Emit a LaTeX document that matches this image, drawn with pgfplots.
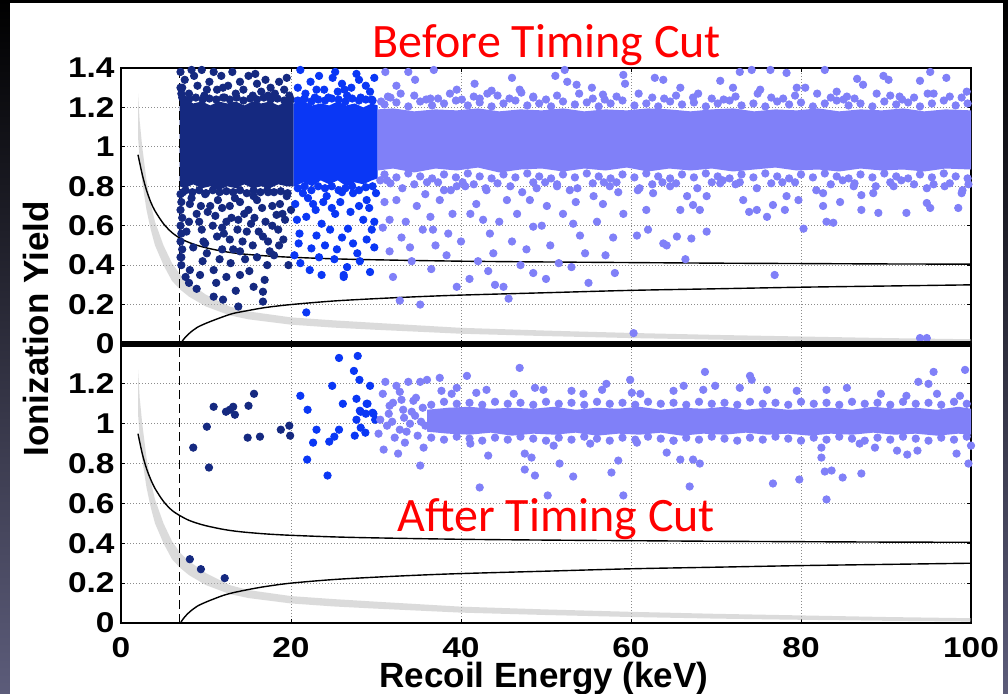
\documentclass[border=0pt]{standalone}
\usepackage{fontspec}
\setmainfont{Liberation Sans}
\newfontfamily\calibri{Carlito}
\newfontfamily\tickfont{Liberation Sans}[FakeStretch=1.17]
\usepackage{pgfplots}
\pgfplotsset{compat=1.18}
\definecolor{navy}{RGB}{21,41,128}
\definecolor{mblue}{RGB}{10,55,245}
\definecolor{light}{RGB}{128,128,248}
\definecolor{bandgray}{RGB}{185,185,185}
\definecolor{gridgray}{RGB}{140,140,140}
\definecolor{bgbot}{RGB}{92,92,122}
\pgfplotsset{
  panel/.style={
    scale only axis, width=425pt,
    xmin=0, xmax=100, ymin=0, ymax=1.4,
    clip=false,
    xtick={0,20,40,60,80,100},
    tick align=inside, major tick length=2pt,
    tick style={black, line width=0.4pt},
    grid=major,
    major grid style={gridgray, line width=0.5pt, dash pattern=on 0.5pt off 1pt},
    axis line style={black, line width=0.8pt},
    tick label style={font=\tickfont\bfseries\fontsize{14.3}{14.3}\selectfont},
    /pgf/number format/assume math mode=true,
    xticklabel style={inner sep=0pt, yshift=-7pt},
    yticklabel style={inner sep=0pt, xshift=-3pt},
  },
  pts/.style={only marks, mark=*, mark size=1.85pt, mark options={draw=none}},
  band/.style={fill=bandgray, fill opacity=0.5, draw=none},
  curve/.style={black, line width=0.7pt, smooth},
  cutline/.style={black, line width=0.8pt, dash pattern=on 4.5pt off 2.5pt},
}
\begin{document}
\begin{tikzpicture}
\useasboundingbox (0,0) rectangle (504pt,347pt);
\shade[top color=black, bottom color=bgbot] (0,0) rectangle (504pt,347pt);
\fill[white] (5pt,0) rectangle (501.5pt,345.5pt);

% ---------------- TOP PANEL: before timing cut ----------------
\begin{axis}[panel, at={(60.5pt,175pt)}, anchor=south west, height=138pt,
  ytick={0,0.2,0.4,0.6,0.8,1,1.2,1.4}, xticklabels={}]
% dense cores
\addplot[fill=navy, draw=none] coordinates {(6.9,0.80)(7.5,0.79)(8.5,0.81)(9.5,0.79)(10.5,0.80)(11.5,0.78)(12.5,0.80)(13.5,0.79)(14.5,0.81)(15.5,0.79)(16.5,0.80)(17.5,0.79)(18.5,0.81)(19.5,0.80)(20.3,0.80)(20.3,1.22)(19.5,1.23)(18.5,1.21)(17.5,1.23)(16.5,1.22)(15.5,1.23)(14.5,1.21)(13.5,1.23)(12.5,1.22)(11.5,1.23)(10.5,1.21)(9.5,1.23)(8.5,1.22)(7.5,1.24)(6.9,1.25)};
\addplot[fill=mblue, draw=none] coordinates {(20.3,0.80)(21.5,0.82)(22.5,0.80)(23.5,0.83)(24.5,0.81)(25.5,0.83)(26.5,0.80)(27.5,0.82)(28.5,0.81)(29.5,0.83)(30.2,0.84)(30.2,1.21)(29.5,1.22)(28.5,1.20)(27.5,1.22)(26.5,1.21)(25.5,1.23)(24.5,1.21)(23.5,1.22)(22.5,1.21)(21.5,1.23)(20.3,1.22)};
\addplot[fill=light, draw=none] coordinates {(30.2,0.88)(32,0.89)(34.5,0.87)(37,0.89)(39.5,0.88)(42,0.895)(44.5,0.87)(47,0.885)(49.5,0.89)(52,0.875)(54.5,0.89)(57,0.88)(59.5,0.895)(62,0.875)(64.5,0.89)(67,0.88)(69.5,0.89)(72,0.875)(74.5,0.885)(77,0.895)(79.5,0.88)(82,0.885)(84.5,0.875)(87,0.89)(89.5,0.88)(92,0.885)(94.5,0.875)(97,0.89)(100,0.885)(100,1.185)(97,1.19)(94.5,1.18)(92,1.195)(89.5,1.185)(87,1.19)(84.5,1.18)(82,1.195)(79.5,1.185)(77,1.19)(74.5,1.18)(72,1.195)(69.5,1.19)(67,1.18)(64.5,1.19)(62,1.195)(59.5,1.185)(57,1.19)(54.5,1.18)(52,1.195)(49.5,1.185)(47,1.19)(44.5,1.18)(42,1.195)(39.5,1.185)(37,1.19)(34.5,1.18)(32,1.195)(30.2,1.19)};
% navy points
\addplot[pts, navy] coordinates {
(7.0,1.38)(7.2,1.30)(7.5,1.34)(8.0,1.27)(8.3,1.39)(8.6,1.36)(9.0,1.31)(9.5,1.39)(9.8,1.26)(10.1,1.29)(10.4,1.33)(10.9,1.38)(11.3,1.29)(11.8,1.36)(12.0,1.30)(12.2,1.25)(12.6,1.31)(13.1,1.38)(13.5,1.27)(14.0,1.33)(14.4,1.29)(15.0,1.36)(15.5,1.26)(15.8,1.37)(16.0,1.32)(16.5,1.28)(17.0,1.34)(17.3,1.26)(17.6,1.30)(18.1,1.27)(18.6,1.33)(19.2,1.29)(19.8,1.26)(19.5,1.35)
(7.2,1.25)(8.0,1.24)(8.8,1.25)(9.6,1.24)(10.4,1.245)(11.2,1.24)(12.0,1.25)(12.8,1.24)(13.6,1.25)(14.4,1.235)(15.2,1.245)(16.0,1.24)(16.8,1.25)(17.6,1.24)(18.4,1.245)(19.2,1.235)(20.0,1.24)
(7.0,1.30)(7.1,1.27)(7.0,0.76)(7.1,0.72)(7.0,0.68)(7.2,0.64)(7.0,0.60)(7.1,0.56)(7.0,0.52)(7.2,0.48)(7.0,0.44)(7.1,0.40)
(7.6,0.78)(8.4,0.77)(9.2,0.78)(10.0,0.765)(10.8,0.78)(11.6,0.77)(12.4,0.775)(13.2,0.77)(14.0,0.78)(14.8,0.765)(15.6,0.78)(16.4,0.77)(17.2,0.78)(18.0,0.77)(18.8,0.775)(19.6,0.765)
(7.3,0.77)(8.1,0.71)(9.9,0.76)(11.4,0.73)(12.8,0.70)(14.0,0.72)(15.6,0.75)(17.3,0.77)(18.7,0.71)(19.5,0.75)(8.9,0.66)(11.1,0.65)(12.4,0.62)(13.8,0.63)(15.0,0.68)(16.6,0.69)(18.3,0.655)(7.7,0.57)(9.5,0.58)(11.3,0.545)(12.8,0.53)(14.8,0.57)(16.7,0.545)(19.1,0.53)(7.1,0.44)(8.5,0.49)(10.1,0.46)(11.6,0.43)(13.2,0.48)(14.6,0.43)(16.0,0.44)(17.5,0.47)(19.7,0.40)(8.1,0.375)(9.3,0.35)(10.9,0.375)(12.4,0.34)(14.0,0.35)(15.6,0.29)(16.9,0.325)(8.9,0.28)(10.9,0.24)(12.0,0.225)(13.8,0.19)(16.7,0.265)(16.7,0.215)
(9.2,0.62)(10.5,0.70)(11.9,0.59)(13.0,0.64)(14.3,0.52)(15.3,0.61)(16.2,0.57)(17.8,0.60)(18.6,0.50)(19.3,0.63)(20.0,0.68)(9.7,0.52)(12.9,0.41)(15.1,0.37)(17.2,0.40)(11.2,0.31)(13.5,0.27)(8.0,0.31)(7.6,0.34)(9.6,0.42)(18.0,0.45)
(8.3,0.74)(9.4,0.70)(10.2,0.67)(11.9,0.69)(13.4,0.74)(14.5,0.66)(16.0,0.73)(17.8,0.70)(19.0,0.66)(8.0,0.62)(10.8,0.60)(12.1,0.56)(13.7,0.58)(15.7,0.64)(17.0,0.62)(18.5,0.58)(9.9,0.51)(11.9,0.48)(14.0,0.47)(15.5,0.50)(17.3,0.52)
};
% blue points
\addplot[pts, mblue] coordinates {
(20.8,1.30)(21.1,1.39)(21.7,1.27)(22.3,1.33)(22.8,1.25)(23.3,1.36)(23.9,1.29)(24.4,1.25)(24.9,1.35)(25.5,1.28)(26.0,1.32)(26.6,1.26)(27.1,1.30)(27.7,1.37)(28.2,1.25)(28.8,1.31)(29.3,1.28)(29.8,1.35)(21.5,1.24)(23.0,1.29)(25.2,1.38)(26.3,1.29)(28.0,1.34)(29.5,1.24)
(20.8,1.235)(21.6,1.245)(22.4,1.23)(23.2,1.24)(24.0,1.235)(24.8,1.245)(25.6,1.24)(26.4,1.23)(27.2,1.245)(28.0,1.235)(28.8,1.24)(29.6,1.235)
(20.8,0.79)(21.6,0.80)(22.4,0.78)(23.2,0.80)(24.0,0.79)(24.8,0.80)(25.6,0.78)(26.4,0.79)(27.2,0.80)(28.0,0.78)(28.8,0.795)(29.6,0.80)
(20.5,0.71)(21.4,0.765)(22.6,0.71)(24.2,0.75)(25.8,0.72)(27.3,0.765)(28.9,0.73)(30.0,0.765)(20.7,0.63)(21.8,0.645)(23.6,0.61)(25.2,0.66)(26.7,0.585)(28.5,0.63)(29.5,0.58)(20.9,0.51)(22.4,0.485)(24.0,0.50)(25.4,0.48)(27.3,0.51)(28.9,0.53)(21.1,0.41)(22.2,0.375)(23.6,0.35)(26.2,0.35)(26.6,0.39)(29.3,0.365)(21.8,0.16)(21.0,0.56)(23.0,0.55)(24.6,0.58)(26.0,0.54)(27.8,0.46)(29.8,0.49)(22.9,0.68)(24.8,0.69)(27.0,0.67)(29.2,0.69)(20.4,0.45)(23.3,0.44)(25.1,0.43)(28.1,0.42)(26.2,0.34)(22.0,0.74)(23.8,0.72)(26.0,0.77)(28.0,0.70)(29.8,0.62)
};
% light points
\addplot[pts, light] coordinates {
(31.0,1.215)(32.4,1.225)(33.8,1.205)(35.2,1.23)(36.6,1.21)(38.0,1.22)(39.4,1.235)(40.8,1.21)(42.2,1.225)(43.6,1.205)(45.0,1.22)(46.4,1.235)(47.8,1.21)(49.2,1.22)(50.6,1.205)(52.0,1.23)(53.4,1.215)(54.8,1.225)(56.2,1.205)(57.6,1.22)(59.0,1.235)(60.4,1.21)(61.8,1.22)(63.2,1.205)(64.6,1.23)(66.0,1.215)(67.4,1.225)(68.8,1.205)(70.2,1.22)(71.6,1.235)(73.0,1.21)(74.4,1.22)(75.8,1.205)(77.2,1.23)(78.6,1.215)(80.0,1.225)(81.4,1.205)(82.8,1.22)(84.2,1.235)(85.6,1.21)(87.0,1.22)(88.4,1.205)(89.8,1.23)(91.2,1.215)(92.6,1.225)(94.0,1.205)(95.4,1.22)(96.8,1.235)(98.2,1.21)(99.6,1.22)
(31.0,0.86)(32.4,0.845)(33.8,0.865)(35.2,0.85)(36.6,0.84)(38.0,0.86)(39.4,0.845)(40.8,0.865)(42.2,0.85)(43.6,0.84)(45.0,0.86)(46.4,0.845)(47.8,0.865)(49.2,0.85)(50.6,0.84)(52.0,0.86)(53.4,0.845)(54.8,0.865)(56.2,0.85)(57.6,0.84)(59.0,0.86)(60.4,0.845)(61.8,0.865)(63.2,0.85)(64.6,0.84)(66.0,0.86)(67.4,0.845)(68.8,0.865)(70.2,0.85)(71.6,0.84)(73.0,0.86)(74.4,0.845)(75.8,0.865)(77.2,0.85)(78.6,0.84)(80.0,0.86)(81.4,0.845)(82.8,0.865)(84.2,0.85)(85.6,0.84)(87.0,0.86)(88.4,0.845)(89.8,0.865)(91.2,0.85)(92.6,0.84)(94.0,0.86)(95.4,0.845)(96.8,0.865)(98.2,0.85)(99.6,0.84)
(31.7,1.25)(34.5,1.26)(37.3,1.245)(41.5,1.255)(44.3,1.26)(48.5,1.25)(51.3,1.26)(55.5,1.245)(58.3,1.255)(62.5,1.25)(65.3,1.26)(69.5,1.245)(72.3,1.255)(76.5,1.25)(79.3,1.26)(83.5,1.25)(86.3,1.245)(90.5,1.26)(93.3,1.25)(97.5,1.255)
(31.7,0.815)(34.5,0.81)(37.3,0.82)(41.5,0.81)(44.3,0.815)(48.5,0.82)(51.3,0.81)(55.5,0.815)(58.3,0.82)(62.5,0.81)(65.3,0.815)(69.5,0.82)(72.3,0.81)(76.5,0.815)(79.3,0.82)(83.5,0.81)(86.3,0.815)(90.5,0.82)(93.3,0.81)(97.5,0.815)
(30.6,1.23)(32.9,1.27)(35.9,1.24)(38.7,1.27)(40.1,1.24)(43.1,1.27)(45.7,1.245)(47.1,1.275)(50.0,1.24)(53.9,1.27)(56.9,1.24)(60.9,1.27)(63.9,1.245)(67.9,1.27)(70.9,1.24)(74.9,1.27)(77.9,1.245)(81.9,1.27)(85.0,1.24)(88.9,1.27)(91.9,1.24)(94.9,1.27)(98.9,1.25)
(30.5,0.83)(33.1,0.79)(36.0,0.82)(38.8,0.78)(40.2,0.82)(42.9,0.79)(45.8,0.80)(47.2,0.77)(49.9,0.82)(53.7,0.79)(56.8,0.82)(60.8,0.78)(63.7,0.82)(67.8,0.79)(70.8,0.83)(74.8,0.79)(77.8,0.82)(81.8,0.78)(84.9,0.83)(88.8,0.80)(91.8,0.83)(94.8,0.79)(99.0,0.78)
(31.1,1.38)(33.8,1.38)(36.8,1.39)(34.6,1.34)(32.4,1.31)(31.4,1.255)(41.6,1.32)(43.6,1.285)(46.0,1.35)(46.9,1.29)(51.1,1.36)(52.2,1.39)(52.5,1.33)(53.6,1.315)(55.4,1.30)(56.7,1.265)(59.1,1.365)(59.3,1.32)(62.8,1.35)(63.8,1.34)(39.5,1.29)(36.4,1.245)(48.5,1.255)(42.2,1.245)
(65.8,1.30)(70.5,1.335)(72.8,1.38)(74.2,1.39)(76.4,1.39)(78.3,1.375)(79.5,1.30)(80.5,1.30)(82.8,1.39)(84.2,1.28)(86.6,1.345)(87.3,1.315)(89.7,1.36)(90.3,1.34)(94.0,1.335)(95.2,1.38)(97.1,1.35)(99.5,1.28)(67.3,1.25)(72.0,1.30)(75.2,1.29)(85.4,1.255)(91.6,1.255)(95.6,1.27)
(31.3,0.83)(32.4,0.73)(31.6,0.63)(33.0,0.54)(31.6,0.47)(34.0,0.49)(32.0,0.34)(32.8,0.22)(35.2,0.20)(34.8,0.70)(36.4,0.645)(37.5,0.73)(38.5,0.56)(36.7,0.58)(38.3,0.45)(39.5,0.29)(40.5,0.80)(41.1,0.66)(41.8,0.71)(42.6,0.63)(43.4,0.56)(43.8,0.46)(43.2,0.37)(45.0,0.29)(45.6,0.23)(45.4,0.73)(46.6,0.66)(48.1,0.73)(48.5,0.595)(47.7,0.48)(48.5,0.36)(50.1,0.70)(51.3,0.80)(52.0,0.66)(53.2,0.61)(54.6,0.46)(55.6,0.75)(56.7,0.71)(57.9,0.54)(59.1,0.66)(58.1,0.36)(60.3,0.055)(60.7,0.55)(61.8,0.68)(62.6,0.765)(63.8,0.51)(39.5,0.80)
(33.5,0.62)(35.5,0.58)(37.0,0.50)(39.0,0.66)(40.0,0.52)(42.0,0.42)(44.5,0.62)(46.0,0.52)(47.0,0.40)(49.5,0.60)(50.5,0.50)(51.5,0.41)(53.5,0.72)(54.0,0.55)(56.0,0.62)(57.0,0.45)(58.5,0.77)(62.0,0.58)(35.8,0.76)(38.0,0.78)(43.0,0.78)(48.9,0.79)(52.8,0.78)(57.5,0.80)(61.0,0.79)(34.2,0.42)(36.5,0.38)(41.0,0.33)(44.0,0.30)(50.0,0.33)(53.0,0.39)(55.0,0.31)(30.8,0.59)(31.0,0.72)
(64.6,0.80)(66.6,0.75)(67.3,0.705)(68.1,0.68)(65.8,0.68)(68.9,0.75)(65.4,0.545)(64.2,0.50)(67.1,0.535)(68.9,0.57)(66.4,0.43)(70.5,0.815)(72.8,0.82)(73.2,0.73)(73.9,0.67)(74.8,0.68)(76.0,0.645)(76.7,0.705)(78.3,0.75)(78.1,0.68)(79.7,0.73)(80.3,0.585)(82.6,0.765)(82.6,0.70)(83.0,0.62)(83.8,0.615)(84.6,0.72)(87.1,0.755)(87.1,0.68)(89.1,0.665)(92.4,0.665)(94.8,0.715)(95.2,0.69)(98.5,0.69)(98.9,0.765)(99.7,0.81)(76.9,0.35)(94.0,0.03)(94.8,0.03)(96.9,0.80)(90.9,0.80)(88.5,0.765)(86.2,0.80)(95.6,0.81)
};
% nuclear-recoil band
\addplot[band] coordinates {(2,1.27)(2.2,1.13)(2.5,1.0)(3,0.83)(3.5,0.71)(4,0.62)(5,0.50)(6,0.41)(7,0.35)(8,0.31)(10,0.25)(12.8,0.19)(15,0.165)(20,0.135)(25,0.12)(30,0.107)(40,0.082)(50,0.068)(60,0.056)(70,0.046)(80,0.038)(90,0.03)(100,0.024)(100,0.007)(90,0.011)(80,0.016)(70,0.022)(60,0.03)(50,0.04)(40,0.052)(30,0.072)(25,0.083)(20,0.098)(15,0.125)(12.8,0.145)(10,0.19)(8,0.24)(7,0.275)(6,0.32)(5,0.40)(4,0.50)(3.5,0.58)(3,0.68)(2.5,0.82)(2.2,0.94)(2,1.05)};
% curves
\addplot[curve] coordinates {(2,0.96)(2.5,0.86)(3,0.78)(3.5,0.72)(4,0.675)(5,0.61)(6,0.565)(7,0.535)(8,0.515)(9,0.50)(10,0.488)(12,0.47)(14,0.458)(17,0.447)(20,0.44)(25,0.432)(30,0.427)(40,0.42)(50,0.416)(60,0.413)(70,0.41)(80,0.408)(90,0.406)(100,0.405)};
\addplot[curve] coordinates {(7.0,0.0)(7.3,0.02)(7.7,0.04)(8.2,0.06)(9,0.085)(10,0.105)(11,0.122)(12,0.138)(13.2,0.155)(15,0.17)(17,0.185)(20,0.20)(25,0.218)(30,0.23)(35,0.24)(40,0.248)(50,0.26)(60,0.272)(70,0.28)(80,0.288)(90,0.294)(100,0.30)};
\addplot[cutline] coordinates {(6.9,0)(6.9,1.4)};
\end{axis}

% ---------------- BOTTOM PANEL: after timing cut ----------------
\begin{axis}[panel, at={(60.5pt,35.5pt)}, anchor=south west, height=139.5pt,
  ytick={0,0.2,0.4,0.6,0.8,1,1.2}]
\addplot[fill=light, draw=none] coordinates {(36,0.96)(38.5,0.95)(41,0.945)(43.5,0.955)(46,0.94)(48.5,0.95)(51,0.945)(53.5,0.955)(56,0.94)(58.5,0.95)(61,0.945)(63.5,0.955)(66,0.94)(68.5,0.95)(71,0.945)(73.5,0.955)(76,0.945)(78.5,0.95)(81,0.94)(83.5,0.95)(86,0.945)(88.5,0.955)(91,0.945)(93.5,0.95)(96,0.94)(98.5,0.95)(100,0.945)(100,1.075)(98.5,1.085)(96,1.07)(93.5,1.08)(91,1.075)(88.5,1.085)(86,1.07)(83.5,1.08)(81,1.075)(78.5,1.07)(76,1.08)(73.5,1.07)(71,1.085)(68.5,1.075)(66,1.08)(63.5,1.07)(61,1.085)(58.5,1.075)(56,1.08)(53.5,1.07)(51,1.085)(48.5,1.075)(46,1.08)(43.5,1.075)(41,1.085)(38.5,1.08)(36,1.07)};
\addplot[pts, navy] coordinates {(8.5,0.88)(10.1,0.985)(10.35,0.78)(10.9,1.085)(12.35,1.06)(12.8,1.07)(13.2,1.085)(13.4,1.045)(14.9,0.93)(15.0,1.09)(15.65,1.15)(16.35,0.935)(18.8,0.97)(19.8,0.99)(19.9,0.94)(8.1,0.32)(9.4,0.27)(12.2,0.225)};
\addplot[pts, mblue] coordinates {(25.65,1.33)(27.85,1.34)(27.4,1.265)(28.05,1.22)(29.3,1.19)(24.85,1.19)(21.1,1.14)(21.95,1.07)(26.1,1.10)(27.7,1.125)(29.0,1.10)(28.2,1.06)(28.8,1.05)(29.6,1.055)(29.9,1.02)(27.7,1.02)(28.2,0.98)(28.75,0.955)(27.5,0.94)(25.65,0.97)(25.1,0.935)(24.5,0.91)(23.0,0.97)(22.6,0.905)(21.9,0.82)(24.3,0.74)(28.1,1.065)(29.7,1.05)(28.9,1.10)};
\addplot[pts, light] coordinates {
(36.5,1.095)(38,1.11)(39.5,1.10)(41,1.105)(42.5,1.095)(44,1.11)(45.5,1.10)(47,1.105)(48.5,1.095)(50,1.11)(51.5,1.10)(53,1.105)(54.5,1.095)(56,1.11)(57.5,1.10)(59,1.105)(60.5,1.095)(62,1.11)(63.5,1.10)(65,1.105)(66.5,1.095)(68,1.11)(69.5,1.10)(71,1.105)(72.5,1.095)(74,1.11)(75.5,1.10)(77,1.105)(78.5,1.095)(80,1.11)(81.5,1.10)(83,1.105)(84.5,1.095)(86,1.11)(87.5,1.10)(89,1.105)(90.5,1.095)(92,1.11)(93.5,1.10)(95,1.105)(96.5,1.095)(98,1.11)(99.5,1.10)
(36.5,0.93)(38,0.92)(39.5,0.935)(41,0.925)(42.5,0.915)(44,0.93)(45.5,0.92)(47,0.935)(48.5,0.925)(50,0.915)(51.5,0.93)(53,0.92)(54.5,0.935)(56,0.925)(57.5,0.915)(59,0.93)(60.5,0.92)(62,0.935)(63.5,0.925)(65,0.915)(66.5,0.93)(68,0.92)(69.5,0.935)(71,0.925)(72.5,0.915)(74,0.93)(75.5,0.92)(77,0.935)(78.5,0.925)(80,0.915)(81.5,0.93)(83,0.92)(84.5,0.935)(86,0.925)(87.5,0.915)(89,0.93)(90.5,0.92)(92,0.935)(93.5,0.925)(95,0.915)(96.5,0.93)(98,0.92)(99.5,0.935)
(30.5,1.02)(31.5,1.05)(32.2,0.93)(33.0,1.12)(33.6,0.96)(34.2,1.06)(34.9,0.94)(35.5,1.08)(35.8,0.99)(30.8,1.15)(31.9,1.01)(33.3,1.03)(34.7,1.13)(35.3,1.01)(32.8,1.16)(30.3,0.95)
(31.1,1.21)(32.4,1.19)(33.8,1.21)(35.2,1.21)(36.0,1.22)(37.5,1.23)(40.7,1.24)(46.9,1.28)(32.0,1.105)(31.6,1.09)(33.2,1.07)(34.4,1.115)(31.3,0.99)(32.8,0.97)(34.0,1.00)(34.6,1.04)(30.9,0.87)(32.6,0.85)(33.4,0.905)(35.6,0.88)(35.2,0.79)
(37.7,1.165)(38.9,1.15)(39.5,1.18)(41.8,1.155)(43.0,1.17)(46.2,1.15)(48.7,1.18)(49.7,1.17)(53.0,1.165)(54.4,1.15)(56.6,1.17)(57.1,1.20)(60.1,1.155)(59.9,1.22)(61.1,1.15)(65.0,1.165)
(43.2,0.84)(47.5,0.85)(48.3,0.83)(47.5,0.77)(48.7,0.74)(51.6,0.80)(53.2,0.735)(42.2,0.68)(50.2,0.64)(59.1,0.64)(57.7,0.755)(58.5,0.815)(64.2,0.855)(41.1,0.90)(50.9,0.89)(55.2,0.90)(60.7,0.905)
(68.7,1.26)(74.0,1.24)(74.2,1.22)(69.9,1.19)(66.2,1.19)(68.5,1.17)(72.8,1.18)(76.0,1.17)(79.5,1.165)(85.4,1.18)(83.0,1.17)(89.4,1.15)(92.4,1.14)(93.8,1.21)(95.0,1.20)(95.6,1.26)(99.3,1.27)(96.0,1.15)(98.7,1.14)
(65.8,0.82)(67.3,0.82)(68.1,0.80)(66.9,0.685)(76.7,0.70)(79.8,0.72)(82.4,0.88)(82.4,0.83)(82.8,0.76)(83.6,0.765)(84.9,0.73)(83.0,0.62)(86.9,0.90)(88.7,0.88)(87.1,0.75)(91.3,0.865)(92.5,0.845)(93.7,0.865)(98.3,0.85)(99.7,0.80)(100,0.89)(65.0,0.915)
};
\addplot[band] coordinates {(2,1.27)(2.2,1.13)(2.5,1.0)(3,0.83)(3.5,0.71)(4,0.62)(5,0.50)(6,0.41)(7,0.35)(8,0.31)(10,0.25)(12.8,0.19)(15,0.165)(20,0.135)(25,0.12)(30,0.107)(40,0.082)(50,0.068)(60,0.056)(70,0.046)(80,0.038)(90,0.03)(100,0.024)(100,0.007)(90,0.011)(80,0.016)(70,0.022)(60,0.03)(50,0.04)(40,0.052)(30,0.072)(25,0.083)(20,0.098)(15,0.125)(12.8,0.145)(10,0.19)(8,0.24)(7,0.275)(6,0.32)(5,0.40)(4,0.50)(3.5,0.58)(3,0.68)(2.5,0.82)(2.2,0.94)(2,1.05)};
\addplot[curve] coordinates {(2,0.95)(2.5,0.85)(3,0.775)(3.5,0.72)(4,0.675)(5,0.61)(6,0.565)(7,0.537)(8,0.515)(9,0.50)(10,0.488)(12,0.47)(14,0.458)(17,0.447)(20,0.44)(25,0.432)(30,0.427)(40,0.42)(50,0.416)(60,0.413)(70,0.41)(80,0.408)(90,0.406)(100,0.405)};
\addplot[curve] coordinates {(7.0,0.0)(7.3,0.02)(7.7,0.04)(8.2,0.06)(9,0.085)(10,0.105)(11,0.122)(12,0.138)(13.2,0.152)(15,0.168)(17,0.183)(20,0.20)(25,0.218)(30,0.23)(35,0.24)(40,0.248)(50,0.26)(60,0.272)(70,0.28)(80,0.288)(90,0.294)(100,0.30)};
\addplot[cutline] coordinates {(6.9,0)(6.9,1.4)};
\end{axis}

\draw[black, line width=3.2pt] (60.5pt,175pt) -- (485.5pt,175pt);
\node[anchor=base west, inner sep=0pt, text=red, font=\calibri\fontsize{24}{24}\selectfont] at (186pt,318pt) {Before Timing Cut};
\node[anchor=base west, inner sep=0pt, text=red, font=\calibri\fontsize{24}{24}\selectfont] at (198.5pt,81pt) {After Timing Cut};
\node[rotate=90, inner sep=0pt, font=\bfseries\fontsize{17.5}{17.5}\selectfont] at (17.75pt,182.5pt) {Ionization Yield};
\node[anchor=base, inner sep=0pt, font=\bfseries\fontsize{17.5}{17.5}\selectfont] at (272pt,3pt) {Recoil Energy (keV)};
\end{tikzpicture}
\end{document}
